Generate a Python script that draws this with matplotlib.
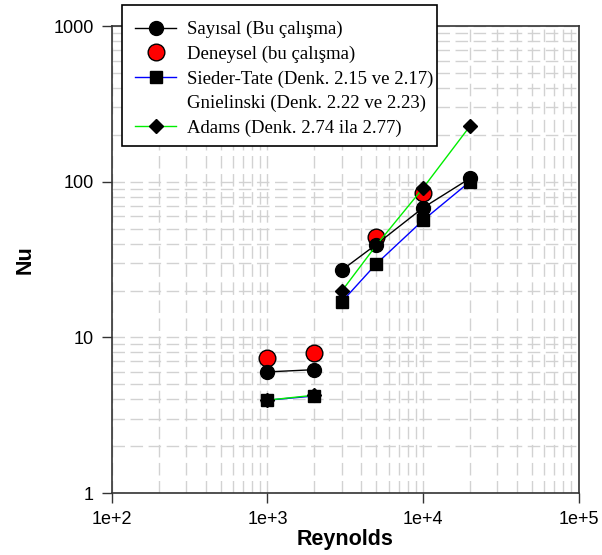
import numpy as np
import matplotlib
matplotlib.use("Agg")
from matplotlib import pyplot as plt
from matplotlib.lines import Line2D
from matplotlib.patches import Rectangle
from matplotlib.ticker import FixedLocator, FixedFormatter, LogLocator, NullFormatter

# Reynolds values (nan = break between laminar and turbulent parts)
re_vals = [1000, 2000, np.nan, 3000, 5000, 10000, 20000]
sayisal = [6.0, 6.2, np.nan, 27.0, 39.5, 68.0, 105.0]
sieder = [3.95, 4.2, np.nan, 16.9, 29.6, 56.5, 100.0]
adams = [3.95, 4.25, np.nan, 19.8, 39.0, 91.0, 227.0]

re_exp = [1000, 2000, 5000, 10000]
deneysel = [7.35, 7.9, 44.0, 85.0]

x_ticks = [1e2, 1e3, 1e4, 1e5]
x_labels = ["1e+2", "1e+3", "1e+4", "1e+5"]
y_ticks = [1, 10, 100, 1000]
y_labels = ["1", "10", "100", "1000"]

plt.rcParams['font.family'] = ['Liberation Sans', 'DejaVu Sans']

fig = plt.figure(figsize=(6.02, 5.55), dpi=100)
ax = fig.add_axes([0.186, 0.1117, 0.775, 0.8413])

ax.set_xscale('log')
ax.set_yscale('log')
ax.set_xlim(1e2, 1e5)
ax.set_ylim(1, 1000)

ax.grid(True, which='both', color='#d2d2d2', linestyle=(0, (9, 4)), linewidth=1.0)
ax.set_axisbelow(True)

ax.plot(re_exp, deneysel, 'o', color='red', markeredgecolor='black', markeredgewidth=1,
        markersize=12, zorder=3)
ax.plot(re_vals, sayisal, '-o', color='black', linewidth=1, markersize=10, zorder=4)
ax.plot(re_vals, sieder, '-s', color='blue', markerfacecolor='black', markeredgecolor='black',
        linewidth=1, markersize=8.5, zorder=5)
ax.plot(re_vals, adams, '-D', color='#00ee00', markerfacecolor='black', markeredgecolor='black',
        linewidth=1, markersize=7.5, zorder=6)

for side in ['top', 'right', 'left', 'bottom']:
    ax.spines[side].set_linewidth(1.2)
    ax.spines[side].set_color('#333333')

ax.xaxis.set_major_locator(FixedLocator(x_ticks))
ax.xaxis.set_major_formatter(FixedFormatter(x_labels))
ax.yaxis.set_major_locator(FixedLocator(y_ticks))
ax.yaxis.set_major_formatter(FixedFormatter(y_labels))
ax.xaxis.set_minor_locator(LogLocator(base=10, subs=np.arange(2, 10)))
ax.yaxis.set_minor_locator(LogLocator(base=10, subs=np.arange(2, 10)))
ax.xaxis.set_minor_formatter(NullFormatter())
ax.yaxis.set_minor_formatter(NullFormatter())
ax.tick_params(which='major', direction='out', length=7, width=1, color='#333333',
               labelsize=13, pad=6)
ax.tick_params(which='minor', length=0)

ax.set_xlabel("Reynolds", fontsize=15.5, fontweight='bold', labelpad=1)
ax.set_ylabel("Nu", fontsize=15.5, fontweight='bold', labelpad=13)

# legend box drawn by hand (it sits over the top of the axes)
box = Rectangle((122 / 602, 1 - 146 / 555), 315 / 602, 141 / 555, transform=fig.transFigure,
                facecolor='white', edgecolor='black', linewidth=1.2, zorder=4)
fig.add_artist(box)

handles = [
    Line2D([], [], color='black', marker='o', markersize=10, linewidth=1),
    Line2D([], [], color='red', marker='o', markeredgecolor='black', markersize=12, linestyle='none'),
    Line2D([], [], color='blue', marker='s', markerfacecolor='black', markeredgecolor='black',
           markersize=8.5, linewidth=1),
    Line2D([], [], linestyle='none'),
    Line2D([], [], color='#00ee00', marker='D', markerfacecolor='black', markeredgecolor='black',
           markersize=7.5, linewidth=1),
]
labels = [
    "Sayısal (Bu çalışma)",
    "Deneysel (bu çalışma)",
    "Sieder-Tate (Denk. 2.15 ve 2.17)",
    "Gnielinski (Denk. 2.22 ve 2.23)",
    "Adams (Denk. 2.74 ila 2.77)",
]
leg = fig.legend(handles, labels, loc='upper left', bbox_to_anchor=(135 / 602, 1 - 21 / 555),
                 borderaxespad=0, prop={'family': 'Liberation Serif', 'size': 13.5},
                 frameon=False, handlelength=2.2, labelspacing=0.39, borderpad=0,
                 handletextpad=0.55)
leg.set_zorder(5)

fig.savefig("out.png", dpi=100)
